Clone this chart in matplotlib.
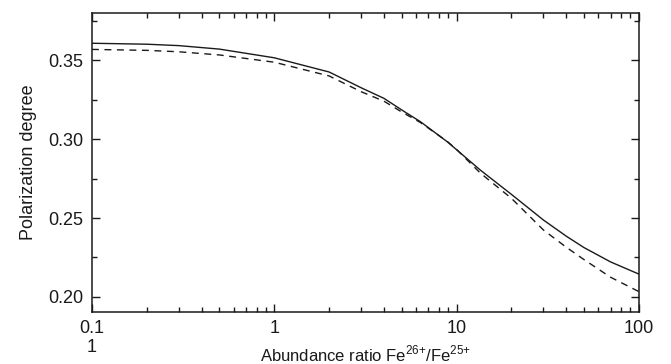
import matplotlib.pyplot as plt
from matplotlib.ticker import MultipleLocator, FixedLocator, LogLocator, NullFormatter

plt.rcParams['font.family'] = ['Liberation Sans', 'DejaVu Sans']
plt.rcParams['mathtext.fontset'] = 'custom'
plt.rcParams['mathtext.rm'] = 'Liberation Sans'

# abundance ratio Fe26+/Fe25+
ratio = [0.1, 0.2, 0.3, 0.5, 1, 2, 3, 4, 5, 6.34, 8.9, 10, 13.5, 20, 30, 40, 50, 70, 100]
# polarization degree, solid curve
pol_solid = [0.3607, 0.3601, 0.3592, 0.3570, 0.3515, 0.3425, 0.3325, 0.3258, 0.3185,
             0.3110, 0.2983, 0.2933, 0.2804, 0.2650, 0.2487, 0.2385, 0.2313, 0.2222, 0.2145]
# polarization degree, dashed curve
pol_dashed = [0.3568, 0.3562, 0.3553, 0.3533, 0.3487, 0.3400, 0.3300, 0.3240, 0.3172,
              0.3105, 0.2985, 0.2935, 0.2785, 0.2625, 0.2424, 0.2315, 0.2237, 0.2125, 0.2034]

fig = plt.figure(figsize=(6.71, 3.64), dpi=100)
ax = fig.add_axes([0.137, 0.143, 0.815, 0.821])

ax.plot(ratio, pol_solid, color='#1a1a1a', lw=1.0)
ax.plot(ratio, pol_dashed, color='#1a1a1a', lw=1.0, dashes=(5, 4))

ax.set_xscale('log')
ax.set_xlim(0.1, 100)
ax.set_ylim(0.1905, 0.3798)
ax.set_xticks([0.1, 1, 10, 100])
ax.set_xticklabels(['0.1', '1', '10', '100'])
ax.xaxis.set_minor_locator(LogLocator(base=10, subs=range(2, 10)))
ax.xaxis.set_minor_formatter(NullFormatter())
ax.yaxis.set_major_locator(FixedLocator([0.20, 0.25, 0.30, 0.35]))
ax.set_yticklabels(['0.20', '0.25', '0.30', '0.35'])
ax.yaxis.set_minor_locator(MultipleLocator(0.025))

ax.tick_params(which='both', direction='in', top=True, right=True,
               labelsize=13, width=1.0, pad=6, colors='#1a1a1a')
ax.tick_params(which='major', length=6)
ax.tick_params(which='minor', length=3.5)
for s in ax.spines.values():
    s.set_linewidth(1.1)
    s.set_color('#1a1a1a')

ax.set_ylabel('Polarization degree', fontsize=13, labelpad=8, color='#1a1a1a')
ax.set_xlabel(r'Abundance ratio Fe$^{26{+}}$/Fe$^{25{+}}$', fontsize=12, labelpad=5,
              color='#1a1a1a')
fig.text(0.137, 0.046, '1', fontsize=13, ha='center', va='center', color='#1a1a1a')

fig.savefig('out.png', dpi=100)
